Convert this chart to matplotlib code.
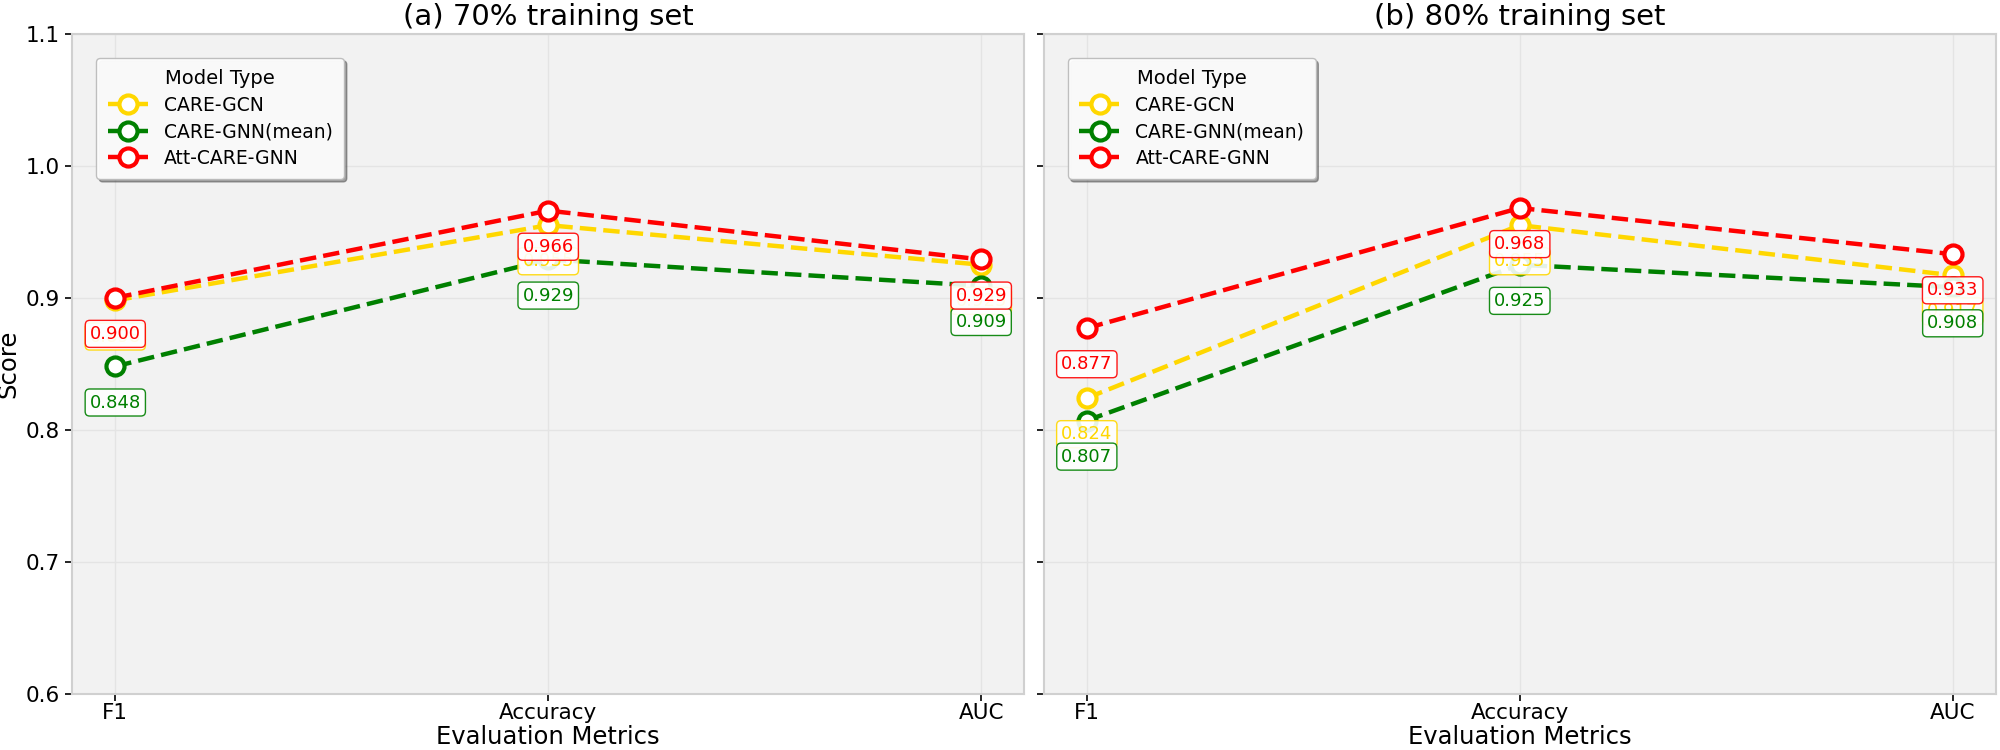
import numpy as np
import matplotlib.pyplot as plt

# Data
metrics = ['F1', 'Accuracy', 'AUC']
models = ['CARE-GCN', 'CARE-GNN(mean)', 'Att-CARE-GNN']
colors = ['#FFD700', 'green', 'red']

scores_70 = {
    'CARE-GCN': [0.898, 0.955, 0.925],
    'CARE-GNN(mean)': [0.848, 0.929, 0.909],
    'Att-CARE-GNN': [0.900, 0.966, 0.929],
}
scores_80 = {
    'CARE-GCN': [0.824, 0.955, 0.917],
    'CARE-GNN(mean)': [0.807, 0.925, 0.908],
    'Att-CARE-GNN': [0.877, 0.968, 0.933],
}
titles = ['(a) 70% training set', '(b) 80% training set']


def draw_panel(ax, scores, title):
    x = np.arange(len(metrics))
    for name, color in zip(models, colors):
        vals = scores[name]
        ax.plot(x, vals, linestyle='--', color=color, linewidth=3.2,
                marker='o', markersize=13, markerfacecolor='white',
                markeredgecolor=color, markeredgewidth=3, label=name, zorder=3)
        for xi, v in zip(x, vals):
            ax.annotate(f'{v:.3f}', (xi, v), xytext=(0, -26),
                        textcoords='offset points', ha='center', va='center',
                        fontsize=13, color=color, zorder=4,
                        bbox=dict(boxstyle='round,pad=0.25', fc='white',
                                  ec=color, lw=1, alpha=0.9))
    ax.set_facecolor('#f2f2f2')
    ax.grid(True, color='#e4e4e4', linewidth=1)
    ax.set_axisbelow(True)
    for sp in ax.spines.values():
        sp.set_color('#d0d0d0')
        sp.set_linewidth(1.5)
    ax.set_xticks(x)
    ax.set_xticklabels(metrics)
    ax.set_xlim(-0.1, 2.1)
    ax.set_ylim(0.6, 1.1)
    ax.set_yticks(np.arange(0.6, 1.11, 0.1))
    ax.tick_params(labelsize=15.5, length=5, width=1.2)
    ax.tick_params(axis='x', pad=2)
    ax.set_xlabel('Evaluation Metrics', fontsize=17.5, labelpad=1)
    ax.set_title(title, fontsize=21)
    leg = ax.legend(title='Model Type', loc='upper left', fontsize=13.5,
                    title_fontsize=14, frameon=True, fancybox=True,
                    shadow=True, facecolor='white', edgecolor='#bbbbbb',
                    framealpha=0.95, borderpad=0.6, labelspacing=0.4,
                    handlelength=2.2, borderaxespad=1.3)
    return leg


fig, axes = plt.subplots(1, 2, figsize=(20, 7.5), dpi=100, sharey=True)
for ax, scores, title in zip(axes, [scores_70, scores_80], titles):
    draw_panel(ax, scores, title)
axes[0].set_ylabel('Score', fontsize=17.5)

plt.subplots_adjust(left=0.036, right=0.998, top=0.955, bottom=0.075, wspace=0.02)
fig.savefig('out.png')
